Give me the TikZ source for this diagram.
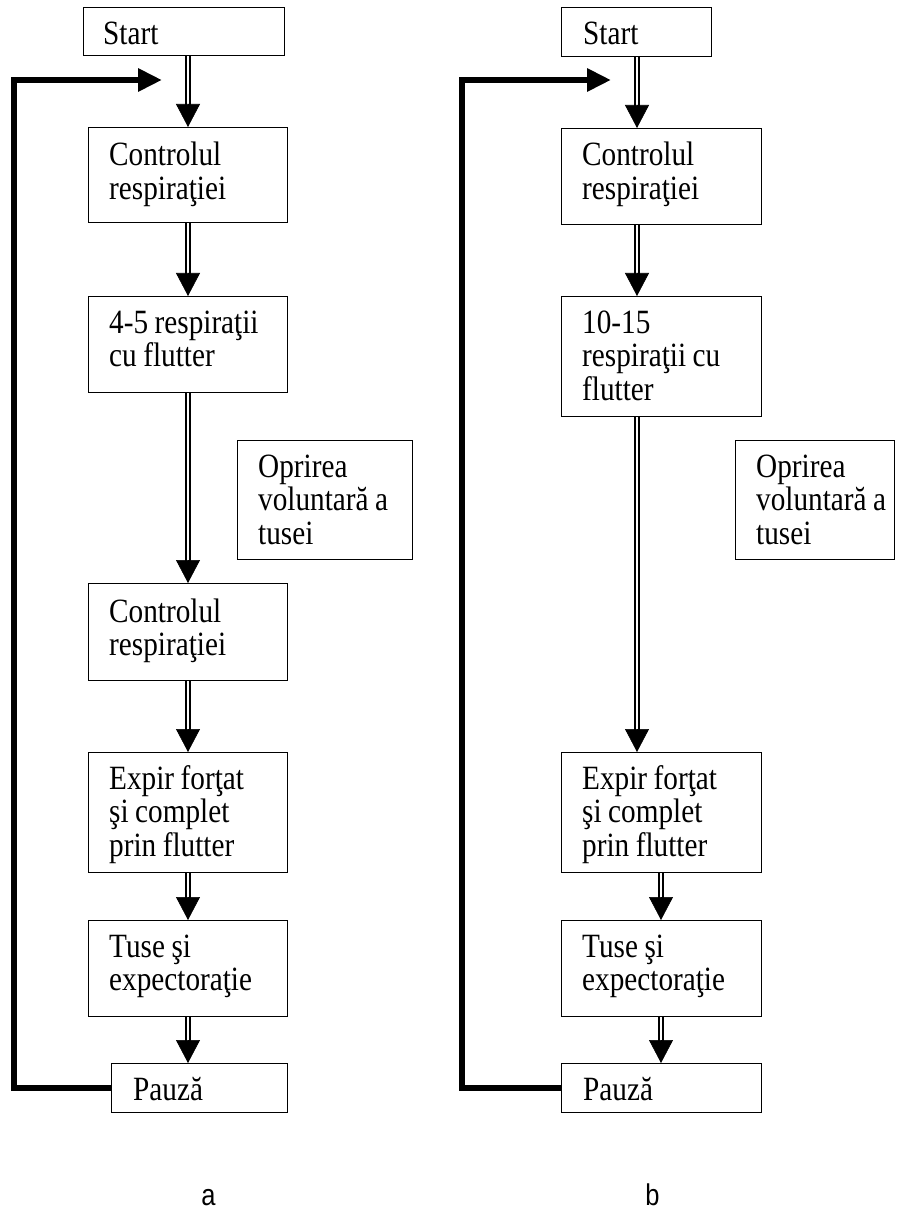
\documentclass[tikz,border=0pt]{standalone}
\usepackage{fontspec}
\setmainfont{Liberation Serif}[FakeStretch=0.86]
\newfontfamily\labelfont{Liberation Sans}[FakeStretch=0.85]
\usetikzlibrary{arrows.meta,calc}
\DeclareRobustCommand\boxfont{\fontsize{34}{33.5}\selectfont}
\newcommand\wsp{\hspace{6.5pt}}
\newcommand\dblarrow[2]{%
  \draw[shaft,shorten >=21pt] (#1) -- (#2);
  \draw[arrtip] ($(#2)+(0,-23)$) -- (#2);}
\begin{document}
\begin{tikzpicture}[x=1pt,y=-1pt,
  fbox/.style={draw, line width=1.3pt, inner sep=0pt, anchor=north west},
  txt/.style={inner sep=0pt, anchor=base west, align=left, text width=200pt,
    font=\boxfont},
  shaft/.style={draw, line width=1.5pt, double, double distance=2.4pt},
  arrtip/.style={line width=0.6pt, -{Triangle[length=23pt,width=24pt]}},
  fbk/.style={line width=6pt, line join=miter, -{Triangle[length=24pt,width=22pt]}},
  lbl/.style={inner sep=0pt, anchor=base, font=\labelfont\fontsize{30}{34}\selectfont}]
\useasboundingbox (0,0) rectangle (897,1230);

% ---------- left diagram (a) ----------
\node[fbox, minimum width=201pt, minimum height=48pt] (sa) at (83,7) {};
\node[fbox, minimum width=199pt, minimum height=95pt] (ca1) at (88,127) {};
\node[fbox, minimum width=199pt, minimum height=96pt] (fa) at (88,296) {};
\node[fbox, minimum width=175pt, minimum height=119pt] (oa) at (237,440) {};
\node[fbox, minimum width=199pt, minimum height=97pt] (ka) at (88,583) {};
\node[fbox, minimum width=199pt, minimum height=120pt] (ea) at (88,752) {};
\node[fbox, minimum width=199pt, minimum height=96pt] (ta) at (88,920) {};
\node[fbox, minimum width=176pt, minimum height=49pt] (pa) at (111,1063) {};

\node[txt] (sat) at ([xshift=20pt,yshift=-38pt]sa.north west) {Start};
\node[txt] (ca1t) at ([xshift=21pt,yshift=-39pt]ca1.north west) {Controlul\\respiraţiei};
\node[txt] (fat) at ([xshift=21pt,yshift=-37pt]fa.north west) {4-5\wsp respiraţii\\cu\wsp flutter};
\node[txt] (oat) at ([xshift=21pt,yshift=-37pt]oa.north west) {Oprirea\\voluntară\wsp a\\tusei};
\node[txt] (kat) at ([xshift=21pt,yshift=-39pt]ka.north west) {Controlul\\respiraţiei};
\node[txt] (eat) at ([xshift=21pt,yshift=-37pt]ea.north west) {Expir\wsp forţat\\şi\wsp complet\\prin\wsp flutter};
\node[txt] (tat) at ([xshift=21pt,yshift=-37pt]ta.north west) {Tuse\wsp şi\\expectoraţie};
\node[txt] (pat) at ([xshift=22pt,yshift=-37pt]pa.north west) {Pauză};

\coordinate (axa) at (188,0);
\dblarrow{sa.south -| axa}{ca1.north -| axa}
\dblarrow{ca1.south -| axa}{fa.north -| axa}
\dblarrow{fa.south -| axa}{ka.north -| axa}
\dblarrow{ka.south -| axa}{ea.north -| axa}
\dblarrow{ea.south -| axa}{ta.north -| axa}
\dblarrow{ta.south -| axa}{pa.north -| axa}

\coordinate (lva) at (14,80);
\coordinate (ra) at (162,80);
\draw[fbk] (pa.west) -| (lva) -- (ra);

% ---------- right diagram (b) ----------
\node[fbox, minimum width=150pt, minimum height=49pt] (sb) at (561,7) {};
\node[fbox, minimum width=200pt, minimum height=96pt] (cb1) at (561,128) {};
\node[fbox, minimum width=200pt, minimum height=120pt] (fb) at (561,296) {};
\node[fbox, minimum width=159pt, minimum height=119pt] (ob) at (735,440) {};
\node[fbox, minimum width=200pt, minimum height=120pt] (eb) at (561,752) {};
\node[fbox, minimum width=200pt, minimum height=96pt] (tb) at (561,920) {};
\node[fbox, minimum width=200pt, minimum height=49pt] (pb) at (561,1063) {};

\node[txt] (sbt) at ([xshift=22pt,yshift=-38pt]sb.north west) {Start};
\node[txt] (cb1t) at ([xshift=21pt,yshift=-38pt]cb1.north west) {Controlul\\respiraţiei};
\node[txt] (fbt) at ([xshift=21pt,yshift=-37pt]fb.north west) {10-15\\respiraţii\wsp cu\\flutter};
\node[txt] (obt) at ([xshift=21pt,yshift=-37pt]ob.north west) {Oprirea\\voluntară\wsp a\\tusei};
\node[txt] (ebt) at ([xshift=21pt,yshift=-37pt]eb.north west) {Expir\wsp forţat\\şi\wsp complet\\prin\wsp flutter};
\node[txt] (tbt) at ([xshift=21pt,yshift=-37pt]tb.north west) {Tuse\wsp şi\\expectoraţie};
\node[txt] (pbt) at ([xshift=22pt,yshift=-37pt]pb.north west) {Pauză};

\coordinate (axb) at (637,0);
\coordinate (axc) at (661,0);
\dblarrow{sb.south -| axb}{cb1.north -| axb}
\dblarrow{cb1.south -| axb}{fb.north -| axb}
\dblarrow{fb.south -| axb}{eb.north -| axb}
\dblarrow{eb.south -| axc}{tb.north -| axc}
\dblarrow{tb.south -| axc}{pb.north -| axc}

\coordinate (lvb) at (462,80);
\coordinate (rb) at (611,80);
\draw[fbk] (pb.west) -| (lvb) -- (rb);

% ---------- labels ----------
\node[lbl] (la) at (208.5,1205) {a};
\node[lbl] (lb) at (652.5,1205) {b};
\end{tikzpicture}
\end{document}
